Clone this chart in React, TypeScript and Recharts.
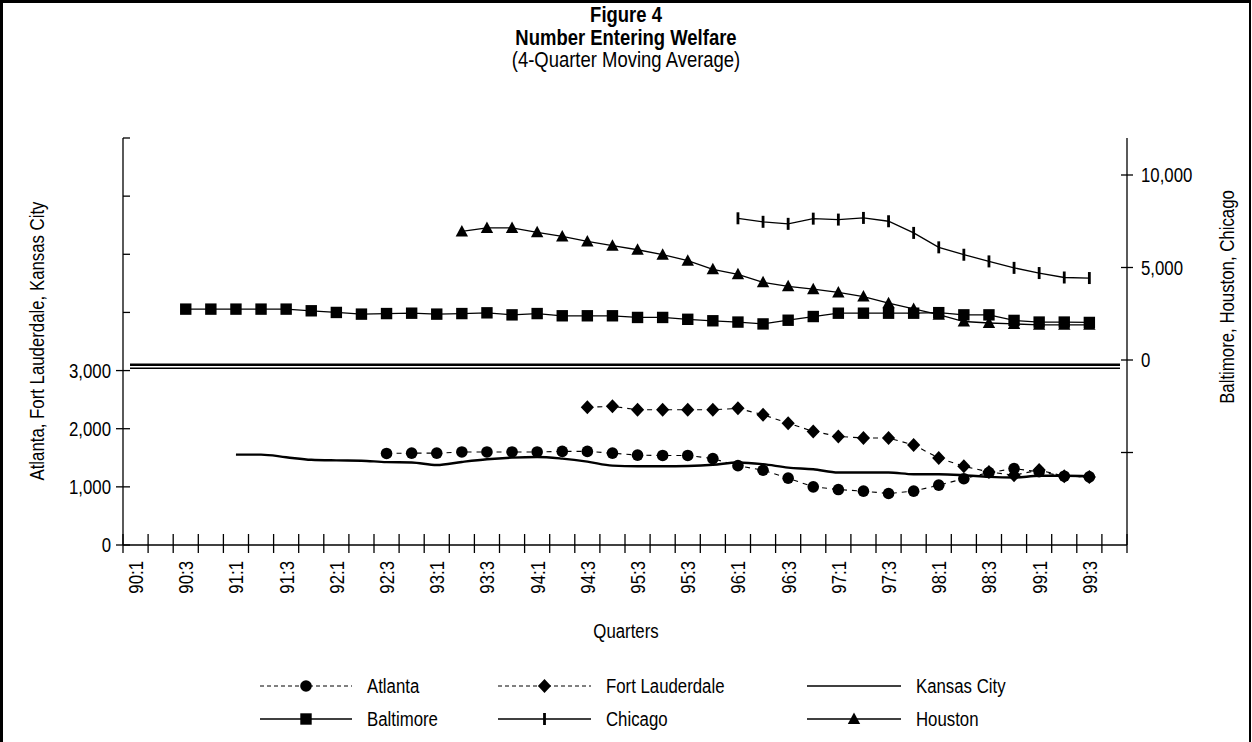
import React from 'react';
import { ComposedChart, Line, XAxis, YAxis, ReferenceLine } from 'recharts';

// ---------- data ----------
const quarters = [
  '90:1', '90:2', '90:3', '90:4', '91:1', '91:2', '91:3', '91:4',
  '92:1', '92:2', '92:3', '92:4', '93:1', '93:2', '93:3', '93:4',
  '94:1', '94:2', '94:3', '94:4', '95:1', '95:2', '95:3', '95:4',
  '96:1', '96:2', '96:3', '96:4', '97:1', '97:2', '97:3', '97:4',
  '98:1', '98:2', '98:3', '98:4', '99:1', '99:2', '99:3', '99:4',
];
// tick labels as printed in the figure (every second quarter)
const tickLabels = [
  '90:1', '', '90:3', '', '91:1', '', '91:3', '',
  '92:1', '', '92:3', '', '93:1', '', '93:3', '',
  '94:1', '', '94:3', '', '95:3', '', '95:3', '',
  '96:1', '', '96:3', '', '97:1', '', '97:3', '',
  '98:1', '', '98:3', '', '99:1', '', '99:3', '',
];

// left axis series (first quarter index + values)
const atlantaStart = 10;
const atlanta = [1575, 1580, 1580, 1600, 1600, 1600, 1600, 1610, 1610, 1580, 1545, 1540, 1540, 1486, 1365, 1286, 1150, 1000, 954, 926, 886, 926, 1029, 1140, 1246, 1314, 1260, 1183, 1171];
const ftLauderdaleStart = 18;
const ftLauderdale = [2370, 2385, 2326, 2326, 2326, 2326, 2350, 2240, 2096, 1954, 1868, 1840, 1840, 1720, 1497, 1354, 1257, 1200, 1290, 1183, 1171];
const kansasCityStart = 4;
const kansasCity = [1554, 1554, 1510, 1465, 1455, 1450, 1425, 1420, 1375, 1428, 1474, 1503, 1514, 1486, 1435, 1365, 1354, 1354, 1360, 1380, 1420, 1390, 1331, 1303, 1246, 1246, 1246, 1217, 1217, 1200, 1171, 1160, 1190, 1190, 1185];

// right axis series
const baltimoreStart = 2;
const baltimore = [2750, 2750, 2750, 2750, 2750, 2660, 2570, 2480, 2510, 2530, 2480, 2510, 2550, 2440, 2510, 2390, 2390, 2390, 2300, 2300, 2200, 2120, 2050, 1950, 2150, 2350, 2530, 2530, 2530, 2530, 2560, 2440, 2440, 2140, 2050, 2050, 2030];
const houstonStart = 13;
const houston = [6950, 7140, 7140, 6900, 6680, 6410, 6180, 5960, 5690, 5370, 4900, 4630, 4200, 3980, 3830, 3650, 3430, 3070, 2760, 2450, 2080, 2000, 1950, 1900, 1900, 1900];
const chicagoStart = 24;
const chicago = [7660, 7470, 7360, 7640, 7590, 7680, 7500, 6870, 6090, 5690, 5330, 4980, 4700, 4460, 4430];

const leftTicks = [0, 1000, 2000, 3000, 4000, 5000, 6000, 7000];
const leftLabelMax = 3000;
const rightTicks = [-5000, 0, 5000, 10000];
const rightLabelMin = 0;

const valueAt = (start: number, arr: number[], i: number) =>
  i >= start && i - start < arr.length ? arr[i - start] : null;

const data = quarters.map((q, i) => ({
  q,
  atlanta: valueAt(atlantaStart, atlanta, i),
  ftLauderdale: valueAt(ftLauderdaleStart, ftLauderdale, i),
  kansasCity: valueAt(kansasCityStart, kansasCity, i),
  baltimore: valueAt(baltimoreStart, baltimore, i),
  houston: valueAt(houstonStart, houston, i),
  chicago: valueAt(chicagoStart, chicago, i),
}));

// ---------- layout ----------
const W = 1252;
const H = 742;
const PLOT_L = 123;
const PLOT_R = 1127;
const PLOT_T = 138;
const PLOT_B = 545;
const BAND = (PLOT_R - PLOT_L) / quarters.length;
const FONT = "'Liberation Sans', Arial, Helvetica, sans-serif";
const SX = 0.8;
const AXW = 1.3;

const fmt = (v: number) => v.toLocaleString('en-US');

function NText(props: any) {
  const { x, y, size = 21, weight = 'normal', anchor = 'start', rotate = 0, dy, sx = SX, children } = props;
  return (
    <g transform={`translate(${x},${y}) rotate(${rotate}) scale(${sx},1)`}>
      <text x={0} y={0} dy={dy} textAnchor={anchor} fontSize={size} fontWeight={weight} fontFamily={FONT} fill="#000">
        {children}
      </text>
    </g>
  );
}

// ---------- markers ----------
const mCircle = (cx: number, cy: number, k?: any) => <circle key={k} cx={cx} cy={cy} r={5.8} fill="#000" />;
const mDiamond = (cx: number, cy: number, k?: any) => (
  <polygon key={k} points={`${cx},${cy - 7} ${cx + 6.6},${cy} ${cx},${cy + 7} ${cx - 6.6},${cy}`} fill="#000" />
);
const mSquare = (cx: number, cy: number, k?: any) => <rect key={k} x={cx - 5.7} y={cy - 5.7} width={11.4} height={11.4} fill="#000" />;
const mTriangle = (cx: number, cy: number, k?: any) => (
  <polygon key={k} points={`${cx},${cy - 6.5} ${cx + 6.2},${cy + 5} ${cx - 6.2},${cy + 5}`} fill="#000" />
);
const mBar = (cx: number, cy: number, k?: any) => <rect key={k} x={cx - 1.4} y={cy - 6} width={2.8} height={12} fill="#000" />;

const dotOf = (fn: any) => (p: any) => {
  const k = `d-${p.dataKey}-${p.index}`;
  if (p.cx == null || p.cy == null || p.value == null || (Array.isArray(p.value) && p.value[1] == null)) {
    return <g key={k} />;
  }
  return fn(p.cx, p.cy, k);
};

// ---------- ticks ----------
const XTick = (p: any) => {
  const { x, payload } = p;
  const i = quarters.indexOf(payload.value);
  const lbl = tickLabels[i];
  const left = x - BAND / 2;
  return (
    <g>
      <line x1={left} x2={left} y1={534} y2={553} stroke="#000" strokeWidth={AXW} />
      {i === quarters.length - 1 && (
        <line x1={x + BAND / 2} x2={x + BAND / 2} y1={534} y2={553} stroke="#000" strokeWidth={AXW} />
      )}
      {lbl ? (
        <NText x={x} y={561} rotate={-90} anchor="end" dy="0.35em">{lbl}</NText>
      ) : null}
    </g>
  );
};

const LeftTick = (p: any) => {
  const v = p.payload.value;
  const y = p.y;
  const labeled = v <= leftLabelMax;
  return (
    <g>
      <line x1={labeled ? PLOT_L - 7 : PLOT_L} x2={PLOT_L + 7} y1={y} y2={y} stroke="#000" strokeWidth={AXW} />
      {labeled ? <NText x={PLOT_L - 12} y={y} anchor="end" dy="0.35em">{fmt(v)}</NText> : null}
    </g>
  );
};

const RightTick = (p: any) => {
  const v = p.payload.value;
  const y = p.y;
  const labeled = v >= rightLabelMin;
  return (
    <g>
      <line x1={PLOT_R - 6} x2={PLOT_R + 6} y1={y} y2={y} stroke="#000" strokeWidth={AXW} />
      {labeled ? <NText x={PLOT_R + 14} y={y} anchor="start" dy="0.35em">{fmt(v)}</NText> : null}
    </g>
  );
};

const breakLine = (w: number) => (p: any) => (
  <line x1={p.x1 + 7} x2={p.x2 - 7} y1={p.y1} y2={p.y2} stroke="#000" strokeWidth={w} />
);

// ---------- legend ----------
const legendRows = [
  [
    { name: 'Atlanta', marker: mCircle, dash: '4 3', width: 1 },
    { name: 'Fort Lauderdale', marker: mDiamond, dash: '4 3', width: 1 },
    { name: 'Kansas City', marker: null, dash: undefined, width: 1.3 },
  ],
  [
    { name: 'Baltimore', marker: mSquare, dash: undefined, width: 1.3 },
    { name: 'Chicago', marker: mBar, dash: undefined, width: 1.3 },
    { name: 'Houston', marker: mTriangle, dash: undefined, width: 1.3 },
  ],
];
const legendCols = [
  { x1: 260, x2: 352, text: 367 },
  { x1: 498, x2: 591, text: 606 },
  { x1: 807, x2: 901, text: 916 },
];
const legendRowY = [686, 719];

export default function App() {
  return (
    <div style={{ position: 'absolute', left: 0, top: 0, width: W, height: H, overflow: 'hidden', background: '#fff' }}>
      <div
        style={{
          position: 'absolute', left: 0, top: 0, width: 1251, height: 800, boxSizing: 'border-box',
          borderLeft: '3px solid #000', borderTop: '3px solid #000', borderRight: '2px solid #000',
        }}
      />
      <div style={{ position: 'absolute', left: 0, top: 0 }}>
        <ComposedChart width={W} height={H} data={data} margin={{ top: PLOT_T, right: 0, bottom: 0, left: 0 }}>
          <XAxis
            dataKey="q"
            scale="band"
            interval={0}
            height={H - PLOT_B}
            tickLine={false}
            axisLine={{ stroke: '#000', strokeWidth: AXW }}
            tick={<XTick />}
          />
          <YAxis
            yAxisId="left"
            orientation="left"
            width={PLOT_L}
            domain={[0, 7000]}
            ticks={leftTicks}
            interval={0}
            tickLine={false}
            axisLine={{ stroke: '#000', strokeWidth: AXW }}
            tick={<LeftTick />}
          />
          <YAxis
            yAxisId="right"
            orientation="right"
            width={W - PLOT_R}
            domain={[-10000, 12000]}
            ticks={rightTicks}
            interval={0}
            tickLine={false}
            axisLine={{ stroke: '#000', strokeWidth: AXW }}
            tick={<RightTick />}
          />
          <ReferenceLine yAxisId="left" y={3100} shape={breakLine(2.6)} />
          <ReferenceLine yAxisId="left" y={3040} shape={breakLine(1.3)} />

          <Line yAxisId="left" dataKey="kansasCity" type="monotone" stroke="#000" strokeWidth={2.4} dot={false} activeDot={false} isAnimationActive={false} />
          <Line yAxisId="left" dataKey="ftLauderdale" type="linear" stroke="#000" strokeWidth={1.1} strokeDasharray="5 5" dot={dotOf(mDiamond)} activeDot={false} isAnimationActive={false} />
          <Line yAxisId="left" dataKey="atlanta" type="linear" stroke="#000" strokeWidth={1.1} strokeDasharray="5 5" dot={dotOf(mCircle)} activeDot={false} isAnimationActive={false} />

          <Line yAxisId="right" dataKey="houston" type="linear" stroke="#000" strokeWidth={1.3} dot={dotOf(mTriangle)} activeDot={false} isAnimationActive={false} />
          <Line yAxisId="right" dataKey="baltimore" type="linear" stroke="#000" strokeWidth={1.3} dot={dotOf(mSquare)} activeDot={false} isAnimationActive={false} />
          <Line yAxisId="right" dataKey="chicago" type="linear" stroke="#000" strokeWidth={1.3} dot={dotOf(mBar)} activeDot={false} isAnimationActive={false} />
        </ComposedChart>
      </div>
      <svg width={W} height={H} style={{ position: 'absolute', left: 0, top: 0, pointerEvents: 'none' }}>
        <NText x={626} y={22} size={22} weight="bold" anchor="middle" sx={0.84}>Figure 4</NText>
        <NText x={626} y={45} size={22} weight="bold" anchor="middle" sx={0.84}>Number Entering Welfare</NText>
        <NText x={626} y={67} size={22} anchor="middle" sx={0.84}>(4-Quarter Moving Average)</NText>

        <NText x={44} y={341} rotate={-90} anchor="middle">Atlanta, Fort Lauderdale, Kansas City</NText>
        <NText x={1234} y={297} rotate={-90} anchor="middle">Baltimore, Houston, Chicago</NText>
        <NText x={626} y={638} anchor="middle">Quarters</NText>

        {legendRows.map((row, r) =>
          row.map((it, c) => {
            const col = legendCols[c];
            const y = legendRowY[r];
            const mid = (col.x1 + col.x2) / 2;
            return (
              <g key={`${r}-${c}`}>
                <line x1={col.x1} x2={col.x2} y1={y} y2={y} stroke="#000" strokeWidth={it.width} strokeDasharray={it.dash} />
                {it.marker ? it.marker(mid, y) : null}
                <NText x={col.text} y={y} dy="0.35em">{it.name}</NText>
              </g>
            );
          })
        )}
      </svg>
    </div>
  );
}
